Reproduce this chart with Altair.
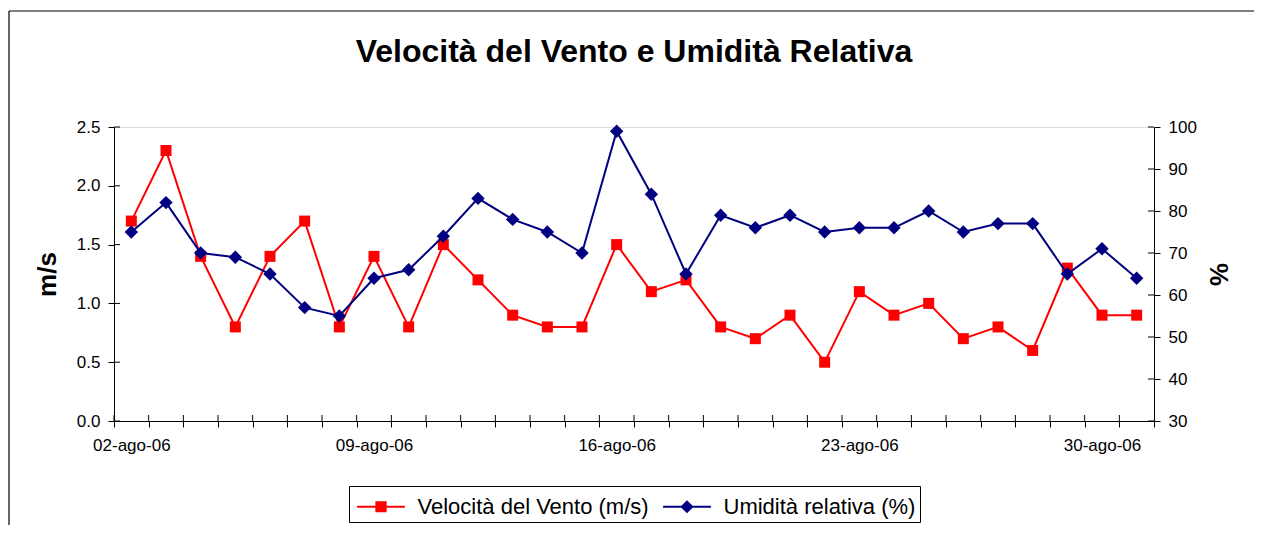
import altair as alt
import pandas as pd

dates = ["02-ago-06", "03-ago-06", "04-ago-06", "05-ago-06", "06-ago-06", "07-ago-06",
         "08-ago-06", "09-ago-06", "10-ago-06", "11-ago-06", "12-ago-06", "13-ago-06",
         "14-ago-06", "15-ago-06", "16-ago-06", "17-ago-06", "18-ago-06", "19-ago-06",
         "20-ago-06", "21-ago-06", "22-ago-06", "23-ago-06", "24-ago-06", "25-ago-06",
         "26-ago-06", "27-ago-06", "28-ago-06", "29-ago-06", "30-ago-06", "31-ago-06"]
wind = [1.7, 2.3, 1.4, 0.8, 1.4, 1.7, 0.8, 1.4, 0.8, 1.5, 1.2, 0.9, 0.8, 0.8, 1.5,
        1.1, 1.2, 0.8, 0.7, 0.9, 0.5, 1.1, 0.9, 1.0, 0.7, 0.8, 0.6, 1.3, 0.9, 0.9]
hum = [75, 82, 70, 69, 65, 57, 55, 64, 66, 74, 83, 78, 75, 70, 99,
       84, 65, 79, 76, 79, 75, 76, 76, 80, 75, 77, 77, 65, 71, 64]
label_dates = ["02-ago-06", "09-ago-06", "16-ago-06", "23-ago-06", "30-ago-06"]
wind_ticks = [0.0, 0.5, 1.0, 1.5, 2.0, 2.5]
hum_ticks = [30, 40, 50, 60, 70, 80, 90, 100]

S_WIND = "Velocità del Vento (m/s)"
S_HUM = "Umidità relativa (%)"
RED = "#FF0000"
NAVY = "#000080"
FONT = "Liberation Sans"
W, H, TICK = 1040, 294, 6

df = pd.DataFrame({
    "data": dates + dates,
    "serie": [S_WIND] * len(dates) + [S_HUM] * len(dates),
    "valore": wind + hum,
})

label_list = ",".join("'" + d + "'" for d in label_dates)
x_axis = alt.Axis(
    title=None, tickBand="extent", labelAngle=0,
    labelExpr=f"indexof([{label_list}], datum.value) >= 0 ? datum.value : ''",
    tickSize=TICK, labelPadding=10, domainColor="black", tickColor="black",
    labelFont=FONT, labelFontSize=17, labelColor="black", labelOverlap=False,
)
x_scale = alt.Scale(type="band", paddingInner=0, paddingOuter=0)
x = alt.X("data:O", sort=dates, bandPosition=0.5, scale=x_scale, axis=x_axis)
x_edge = alt.X("data:O", sort=dates, bandPosition=0, scale=x_scale, axis=x_axis)

# legend symbols: short line with the series marker (drawn wider than the layout box)
P_WIND = "M-1.45,-0.065H1.45V0.065H-1.45Z M-0.34,-0.34H0.34V0.34H-0.34Z"
P_HUM = "M-1.45,-0.065H1.45V0.065H-1.45Z M0,-0.4L0.4,0L0,0.4L-0.4,0Z"

legend = alt.Legend(
    title=None, orient="none", legendX=235, legendY=359, direction="horizontal",
    strokeColor="black", fillColor="white", padding=4,
    labelFont=FONT, labelFontSize=22, labelColor="black", labelLimit=400,
    labelOffset=20, symbolOffset=11.5,
    columnPadding=10, symbolSize=1089, symbolStrokeWidth=0, symbolOpacity=1,
)
color = alt.Color("serie:N", scale=alt.Scale(domain=[S_WIND, S_HUM], range=[RED, NAVY]),
                  legend=legend)
shape = alt.Shape("serie:N", scale=alt.Scale(domain=[S_WIND, S_HUM], range=[P_WIND, P_HUM]),
                  legend=legend)

y_wind = alt.Y("valore:Q", scale=alt.Scale(domain=[0, 2.5], nice=False, zero=False),
               axis=alt.Axis(orient="left", values=wind_ticks, format=".1f", grid=False,
                             title="m/s", titleFont=FONT, titleFontSize=26, titleFontWeight="bold",
                             titleColor="black", titlePadding=16,
                             tickSize=TICK, labelPadding=8, domainColor="black", tickColor="black",
                             labelFont=FONT, labelFontSize=17, labelColor="black"))
y_hum = alt.Y("valore:Q", scale=alt.Scale(domain=[30, 100], nice=False, zero=False),
              axis=alt.Axis(orient="right", values=hum_ticks, grid=False,
                            title="%", titleFont=FONT, titleFontSize=26, titleFontWeight="bold",
                            titleColor="black", titlePadding=8,
                            tickSize=TICK, labelPadding=8, domainColor="black", tickColor="black",
                            labelFont=FONT, labelFontSize=17, labelColor="black"))

wind_base = alt.Chart(df).transform_filter(alt.datum.serie == S_WIND)
wind_line = wind_base.mark_line(
    strokeWidth=2, color=RED,
    point=alt.OverlayMarkDef(shape="square", size=121, filled=True, opacity=1, color=RED),
).encode(x=x, y=y_wind)
legend_layer = wind_base.mark_point(filled=True, opacity=0, size=1).encode(
    x=x, y=y_wind, color=color, shape=shape)

# inner halves of the crossing tick marks
x_inner = wind_base.mark_rule(color="black", strokeWidth=1).encode(
    x=x_edge, y=alt.value(H - TICK), y2=alt.value(H))
yl_inner = alt.Chart(pd.DataFrame({"valore": wind_ticks})).mark_rule(
    color="black", strokeWidth=1).encode(y=y_wind, x=alt.value(0), x2=alt.value(TICK))
wind_layer = alt.layer(wind_line, legend_layer, x_inner, yl_inner)

hum_line = alt.Chart(df).transform_filter(alt.datum.serie == S_HUM).mark_line(
    strokeWidth=2, color=NAVY,
    point=alt.OverlayMarkDef(shape="diamond", size=180, filled=True, opacity=1, color=NAVY),
).encode(x=x, y=y_hum)
yr_inner = alt.Chart(pd.DataFrame({"valore": hum_ticks})).mark_rule(
    color="black", strokeWidth=1).encode(y=y_hum, x=alt.value(W - TICK), x2=alt.value(W))
hum_layer = alt.layer(hum_line, yr_inner)

# outer chart frame (left and top edges; the rest lies beyond the window)
one = alt.Data(values=[{"k": 1}])
frame_left = alt.Chart(one).mark_rule(color="black", strokeWidth=1.2).encode(
    x=alt.value(-105), y=alt.value(-116), y2=alt.value(700))
frame_top = alt.Chart(one).mark_rule(color="black", strokeWidth=1.2).encode(
    x=alt.value(-105), x2=alt.value(1300), y=alt.value(-116))

chart = alt.layer(frame_left, frame_top, wind_layer, hum_layer).resolve_scale(
    y="independent"
).properties(
    width=W, height=H,
    title=alt.TitleParams("Velocità del Vento e Umidità Relativa", font=FONT, fontSize=32,
                          fontWeight="bold", color="black", anchor="middle", frame="group",
                          baseline="alphabetic", offset=-84),
    autosize=alt.AutoSizeParams(type="none"),
    padding={"left": 106, "top": 119, "right": 100, "bottom": 104},
).configure_view(stroke="#A0A0A0", strokeWidth=1.5).configure(background="white")

chart.save("out.html", embed_options={"renderer": "svg", "actions": False})
